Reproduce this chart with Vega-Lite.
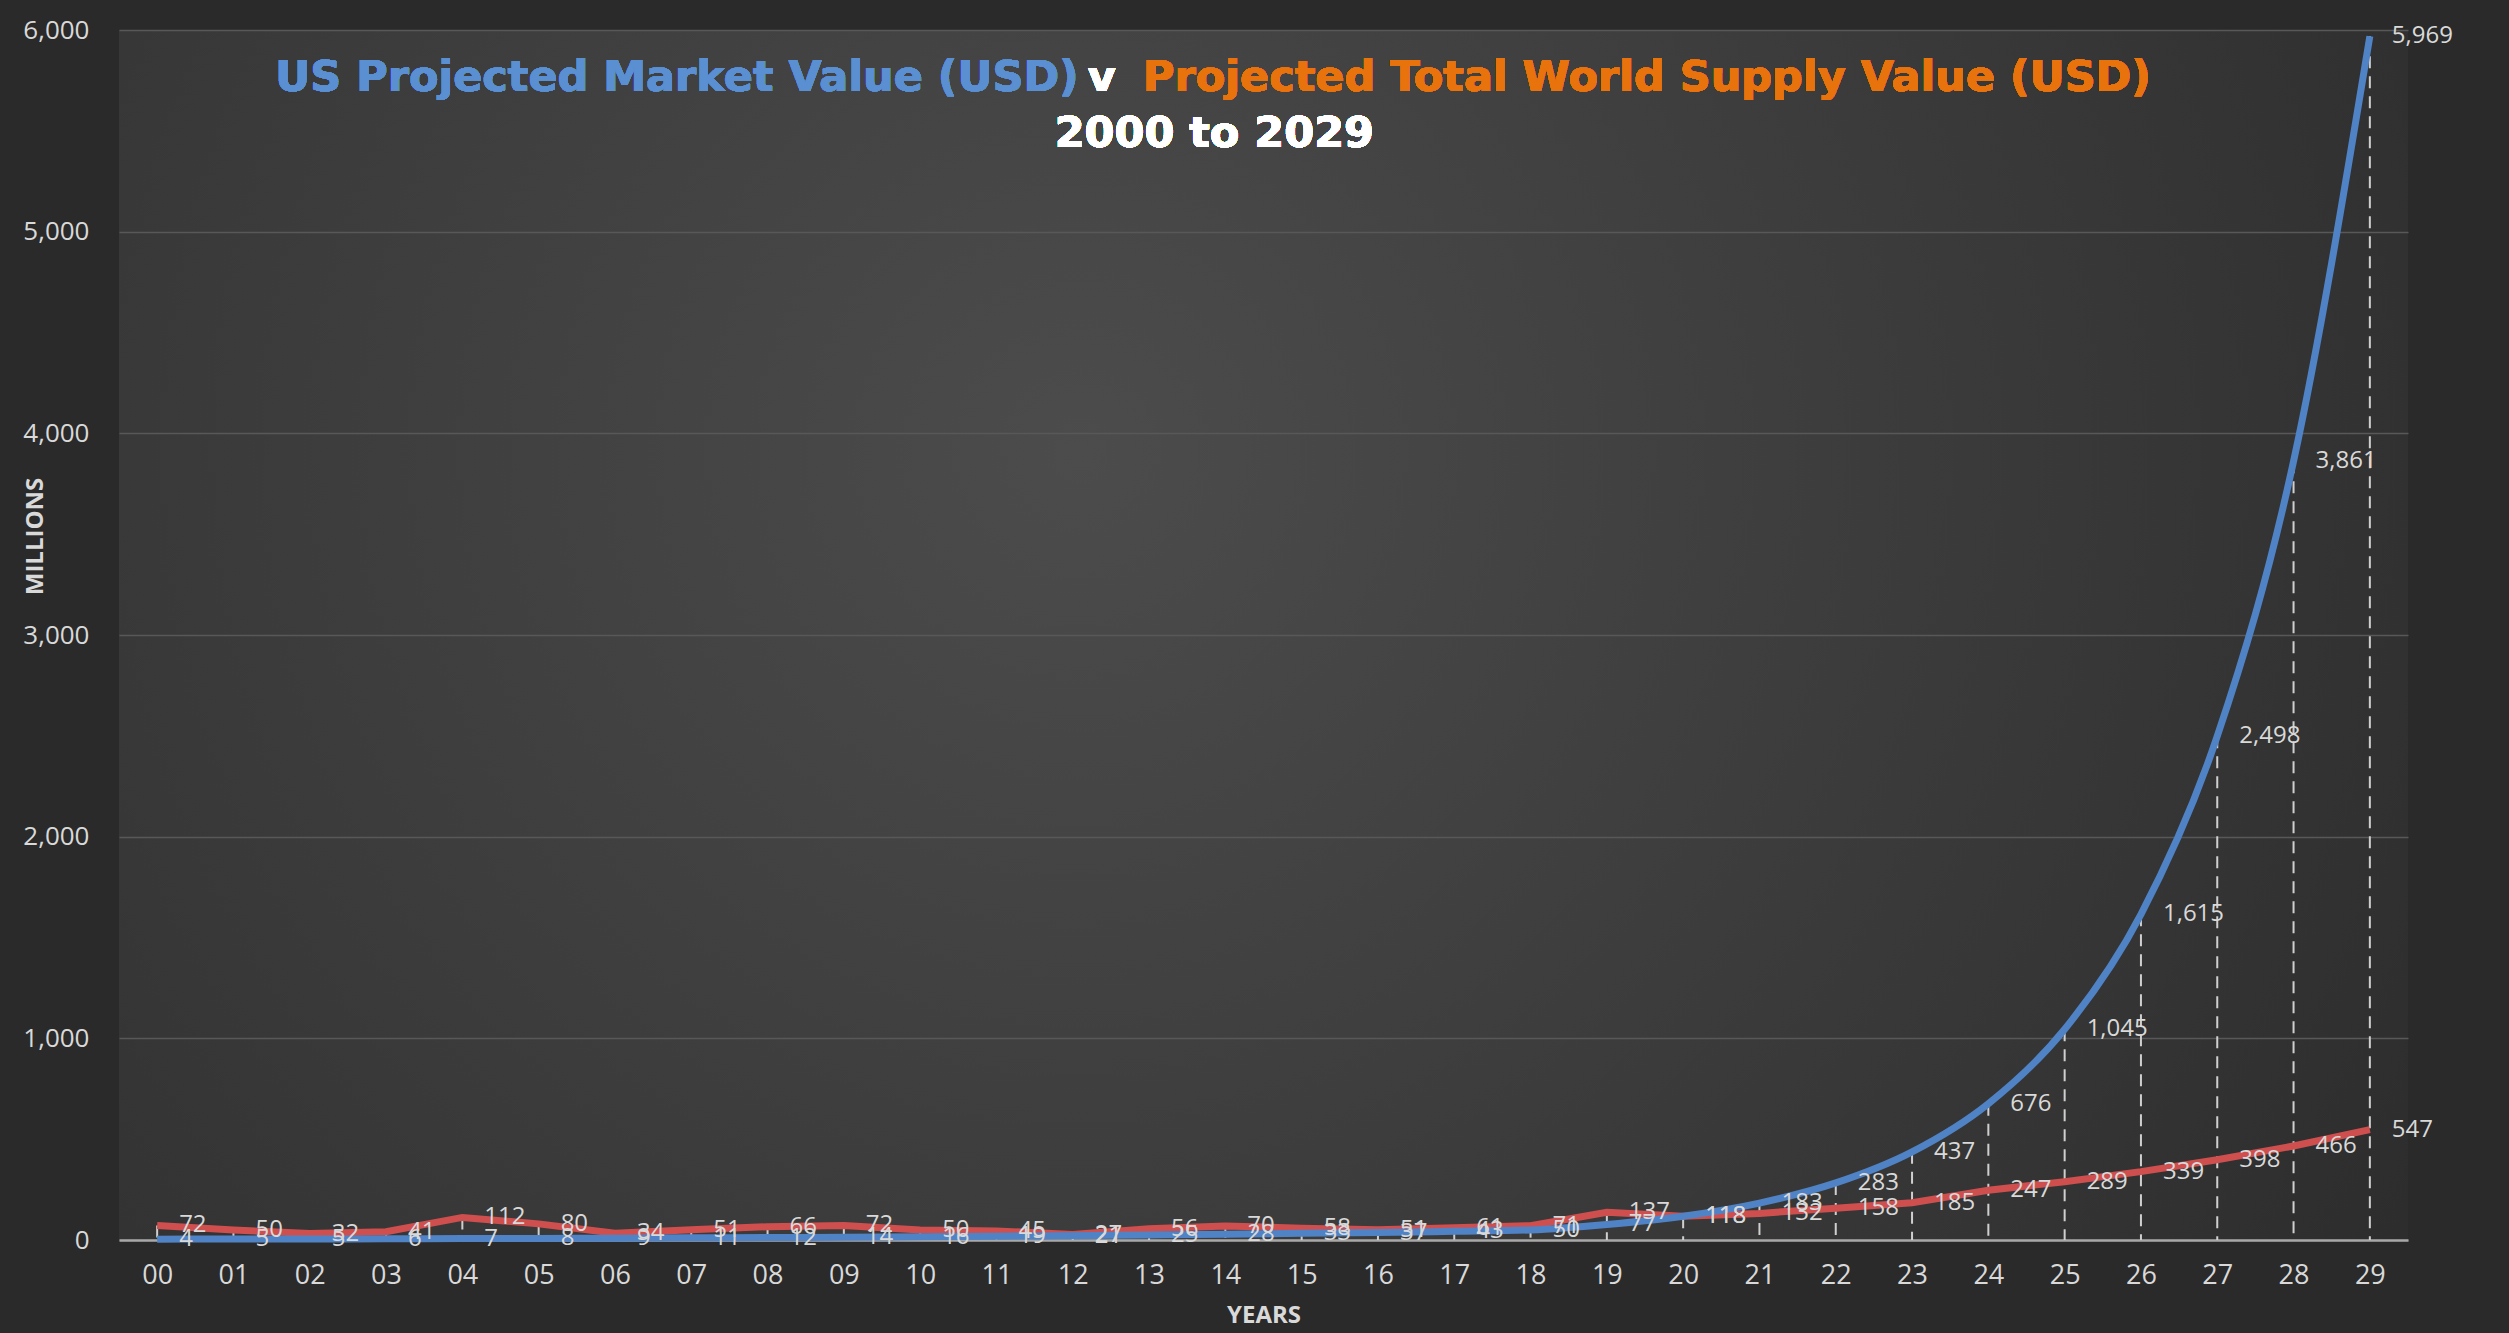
{
  "$schema": "https://vega.github.io/schema/vega-lite/v6.json",
  "width": 2289,
  "height": 1210,
  "autosize": {"type": "none"},
  "padding": {"left": 119, "top": 30, "right": 101, "bottom": 93},
  "background": "#2a2a2a",
  "config": {
    "view": {"stroke": null, "fill": {"gradient": "radial", "x1": 0.42, "y1": 0.42, "x2": 0.42, "y2": 0.42, "r1": 0, "r2": 0.8, "stops": [{"offset": 0, "color": "#4c4c4c"}, {"offset": 1, "color": "#272727"}]}},
    "font": "Open Sans"
  },
  "data": {"values": [
    {"yr": "00", "series": "US", "value": 4}, {"yr": "01", "series": "US", "value": 5}, {"yr": "02", "series": "US", "value": 5}, {"yr": "03", "series": "US", "value": 6}, {"yr": "04", "series": "US", "value": 7},
    {"yr": "05", "series": "US", "value": 8}, {"yr": "06", "series": "US", "value": 9}, {"yr": "07", "series": "US", "value": 11}, {"yr": "08", "series": "US", "value": 12}, {"yr": "09", "series": "US", "value": 14},
    {"yr": "10", "series": "US", "value": 16}, {"yr": "11", "series": "US", "value": 19}, {"yr": "12", "series": "US", "value": 21}, {"yr": "13", "series": "US", "value": 25}, {"yr": "14", "series": "US", "value": 28},
    {"yr": "15", "series": "US", "value": 33}, {"yr": "16", "series": "US", "value": 37}, {"yr": "17", "series": "US", "value": 43}, {"yr": "18", "series": "US", "value": 50}, {"yr": "19", "series": "US", "value": 77},
    {"yr": "20", "series": "US", "value": 118}, {"yr": "21", "series": "US", "value": 183}, {"yr": "22", "series": "US", "value": 283}, {"yr": "23", "series": "US", "value": 437}, {"yr": "24", "series": "US", "value": 676},
    {"yr": "25", "series": "US", "value": 1045}, {"yr": "26", "series": "US", "value": 1615}, {"yr": "27", "series": "US", "value": 2498}, {"yr": "28", "series": "US", "value": 3861}, {"yr": "29", "series": "US", "value": 5969},
    {"yr": "00", "series": "World", "value": 72}, {"yr": "01", "series": "World", "value": 50}, {"yr": "02", "series": "World", "value": 32}, {"yr": "03", "series": "World", "value": 41}, {"yr": "04", "series": "World", "value": 112},
    {"yr": "05", "series": "World", "value": 80}, {"yr": "06", "series": "World", "value": 34}, {"yr": "07", "series": "World", "value": 51}, {"yr": "08", "series": "World", "value": 66}, {"yr": "09", "series": "World", "value": 72},
    {"yr": "10", "series": "World", "value": 50}, {"yr": "11", "series": "World", "value": 45}, {"yr": "12", "series": "World", "value": 27}, {"yr": "13", "series": "World", "value": 56}, {"yr": "14", "series": "World", "value": 70},
    {"yr": "15", "series": "World", "value": 58}, {"yr": "16", "series": "World", "value": 51}, {"yr": "17", "series": "World", "value": 61}, {"yr": "18", "series": "World", "value": 71}, {"yr": "19", "series": "World", "value": 137},
    {"yr": "20", "series": "World", "value": 118}, {"yr": "21", "series": "World", "value": 132}, {"yr": "22", "series": "World", "value": 158}, {"yr": "23", "series": "World", "value": 185}, {"yr": "24", "series": "World", "value": 247},
    {"yr": "25", "series": "World", "value": 289}, {"yr": "26", "series": "World", "value": 339}, {"yr": "27", "series": "World", "value": 398}, {"yr": "28", "series": "World", "value": 466}, {"yr": "29", "series": "World", "value": 547}
  ]},
  "layer": [
    {
      "transform": [{"aggregate": [{"op": "max", "field": "value", "as": "top"}], "groupby": ["yr"]}],
      "mark": {"type": "rule", "color": "#cfcfcf", "strokeDash": [12, 8], "strokeWidth": 2},
      "encoding": {
        "x": {"field": "yr", "type": "ordinal", "scale": {"type": "point", "padding": 0.5},
          "axis": {"title": "YEARS", "labelAngle": 0, "labelColor": "#d9d9d9", "labelFontSize": 27, "labelPadding": 22, "ticks": false, "domainColor": "#a8a8a8", "domainWidth": 2.5, "grid": false, "titleColor": "#d9d9d9", "titleFontSize": 24, "titleFontWeight": "bold", "titlePadding": 15}},
        "y": {"field": "top", "type": "quantitative", "scale": {"domain": [0, 6000], "nice": false},
          "axis": {"title": "MILLIONS", "values": [0, 1000, 2000, 3000, 4000, 5000, 6000], "format": ",d", "labelColor": "#d9d9d9", "labelFontSize": 26, "labelPadding": 30, "ticks": false, "domain": false, "gridColor": "#585858", "gridWidth": 1.5, "titleColor": "#d9d9d9", "titleFontSize": 24, "titleFontWeight": "bold", "titleX": -84, "titleY": 506, "titleBaseline": "middle", "titleAlign": "center", "titleAngle": 270}},
        "y2": {"datum": 0}
      }
    },
    {
      "transform": [{"filter": "datum.series === 'World'"}],
      "mark": {"type": "line", "color": "#cf4f4f", "strokeWidth": 7, "interpolate": "linear"},
      "encoding": {"x": {"field": "yr", "type": "ordinal"}, "y": {"field": "value", "type": "quantitative"}}
    },
    {
      "transform": [{"filter": "datum.series === 'US'"}],
      "mark": {"type": "line", "color": "#4f83c6", "strokeWidth": 7, "interpolate": "monotone"},
      "encoding": {"x": {"field": "yr", "type": "ordinal"}, "y": {"field": "value", "type": "quantitative"}}
    },
    {
      "mark": {"type": "text", "align": "left", "baseline": "middle", "dx": 22, "color": "#d9d9d9", "fontSize": 24},
      "encoding": {"x": {"field": "yr", "type": "ordinal"}, "y": {"field": "value", "type": "quantitative"}, "text": {"field": "value", "type": "quantitative", "format": ","}}
    },
    {
      "mark": {"type": "text", "text": "US Projected Market Value (USD)", "align": "right", "baseline": "middle", "dx": 6, "color": "#5a8fd2", "fontSize": 43, "fontWeight": "bold", "font": "DejaVu Sans"},
      "encoding": {"x": {"datum": "12", "type": "ordinal"}, "y": {"datum": 5762, "type": "quantitative"}}
    },
    {
      "mark": {"type": "text", "text": "v", "align": "center", "baseline": "middle", "dx": 29, "color": "#ffffff", "fontSize": 43, "fontWeight": "bold", "font": "DejaVu Sans"},
      "encoding": {"x": {"datum": "12", "type": "ordinal"}, "y": {"datum": 5762, "type": "quantitative"}}
    },
    {
      "mark": {"type": "text", "text": "Projected Total  World Supply Value (USD)", "align": "left", "baseline": "middle", "dx": -6, "color": "#e8730c", "fontSize": 43, "fontWeight": "bold", "font": "DejaVu Sans"},
      "encoding": {"x": {"datum": "13", "type": "ordinal"}, "y": {"datum": 5762, "type": "quantitative"}}
    },
    {
      "mark": {"type": "text", "text": "2000 to 2029", "align": "center", "baseline": "middle", "dx": -11, "color": "#ffffff", "fontSize": 43, "fontWeight": "bold", "font": "DejaVu Sans"},
      "encoding": {"x": {"datum": "14", "type": "ordinal"}, "y": {"datum": 5484, "type": "quantitative"}}
    }
  ]
}
